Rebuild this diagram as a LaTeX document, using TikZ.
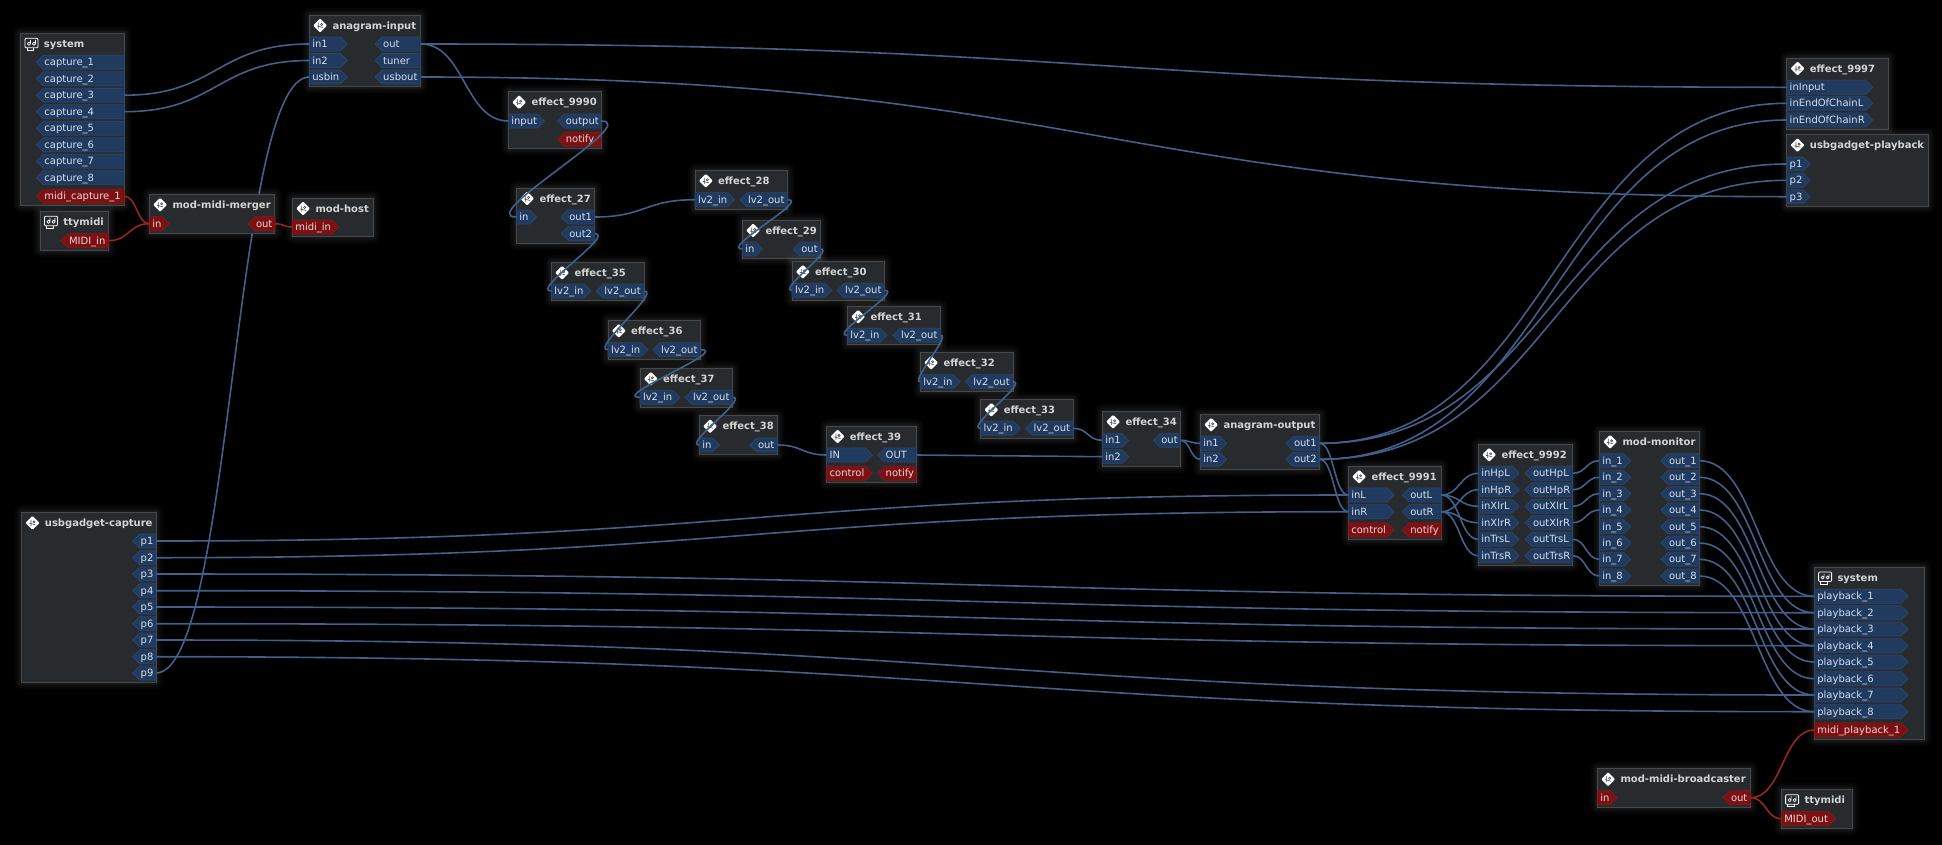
\documentclass[tikz,border=0pt]{standalone}
\usepackage{fontspec}
\setmainfont{DejaVu Sans}
\usetikzlibrary{calc}
\definecolor{bluefill}{HTML}{213B60}
\definecolor{blueedge}{HTML}{2B456B}
\definecolor{bluetext}{HTML}{D5DFEC}
\definecolor{redfill}{HTML}{7B1114}
\definecolor{rededge}{HTML}{861818}
\definecolor{redtext}{HTML}{F0D5D5}
\definecolor{boxedge}{HTML}{46494B}
\definecolor{boxfill}{HTML}{272B2D}
\definecolor{titletext}{HTML}{D4D4D4}
\definecolor{cableblue}{HTML}{41608A}
\definecolor{cablered}{HTML}{94281F}
\tikzset{
  x=1pt,y=-1pt,
  cableA/.style={draw=cableblue,line width=1.6pt},
  cableM/.style={draw=cablered,line width=1.6pt},
  pa/.style={fill=bluefill,draw=blueedge,line width=0.8pt},
  pm/.style={fill=redfill,draw=rededge,line width=0.8pt},
  pa text/.style={text=bluetext},
  pm text/.style={text=redtext},
  portlabel/.style={inner sep=0pt,outer sep=0pt,align=left,text height=10.5pt,text depth=3.5pt,font=\fontsize{10}{12}\selectfont},
  titlelabel/.style={inner sep=0pt,anchor=base west,text=titletext,font=\fontsize{10}{12}\selectfont\bfseries},
  boxnode/.style={draw=boxedge,line width=1pt,fill=boxfill,inner sep=0pt,outer sep=0pt,anchor=north west},
  glow/.style={fill=white,opacity=0.018},
  iconline/.style={draw=white,line width=0.8pt,line join=round},
}
% left-side (input) port: name, x of box edge, width, y, text, kind
\newcommand\inport[6]{%
  \draw[p#6] (#2,#4-7) -- (#2+#3-7,#4-7) -- (#2+#3,#4) -- (#2+#3-7,#4+7) -- (#2,#4+7) -- cycle;
  \node[portlabel,p#6 text,text width=#3pt] (#1) at ({#2+#3/2},#4) {\hspace*{3pt}\mbox{#5}};
}
% right-side (output) port: name, x of box edge, width, y, text, kind
\newcommand\outport[6]{%
  \draw[p#6] (#2,#4-7) -- (#2-#3+7,#4-7) -- (#2-#3,#4) -- (#2-#3+7,#4+7) -- (#2,#4+7) -- cycle;
  \node[portlabel,p#6 text,text width=#3pt] (#1) at ({#2-#3/2},#4) {\hspace*{8pt}\mbox{#5}};
}
\newcommand\plugicon[2]{%
  \fill[white,rounded corners=1pt] (#1-7,#2) -- (#1,#2-7) -- (#1+7,#2) -- (#1,#2+7) -- cycle;
  \draw[black!70,line width=0.6pt] (#1-1.5,#2-3) -- (#1-1.5,#2+3) (#1+1.5,#2-1) circle[radius=1.1pt] (#1-3,#2+0.5) -- (#1+3,#2+2);
}
\newcommand\hwicon[2]{%
  \draw[iconline,rounded corners=1pt] (#1-6.5,#2-5.5) rectangle (#1+6.5,#2+4);
  \draw[iconline,line width=0.6pt] (#1-4.5,#2+4) -- (#1-4.5,#2+6.5) -- (#1+2,#2+6.5) -- (#1+2,#2+4);
  \draw[iconline,line width=0.7pt] (#1-2.5,#2) circle[radius=1.6pt] (#1-1,#2) -- (#1-1,#2-4)
     (#1+2.5,#2) circle[radius=1.6pt] (#1+4,#2) -- (#1+4,#2-4);
}
% box: name, x1, y1, x2, y2, title, icon macro
\newcommand\gbox[7]{%
  \foreach \g in {7,5.5,4,3,2,1}{\fill[glow,rounded corners=\g pt] (#2-\g,#3-\g) rectangle (#4+\g,#5+\g);}
  \node[boxnode,minimum width=#4pt-#2pt,minimum height=#5pt-#3pt] (#1) at (#2,#3) {};
  #7{#2+10.8}{#3+10.5}
  \node[titlelabel] (#1title) at (#2+23,#3+14.2) {#6};
}
\newcommand\cable[3]{%
  \draw[cable#1] let \p1=(#2.east),\p2=(#3.west),\n1={abs(\x2-\x1)/2} in
    (\p1) .. controls (\x1+\n1,\y1) and (\x2-\n1,\y2) .. (\p2);
}
\begin{document}
\begin{tikzpicture}
\useasboundingbox (0,0) rectangle (1942,844);
\fill[black] (-3,-3) rectangle (1945,847);
% cable that runs behind the merger box
\coordinate (ucP) at (156,673);
\coordinate (aiU) at (309.3,77);
\draw[cableA] let \p1=(ucP),\p2=(aiU),\n1={abs(\x2-\x1)/2} in (\p1) .. controls (\x1+\n1,\y1) and (\x2-\n1,\y2) .. (\p2);

% ---- boxes
\gbox{sysL}{20.7}{33.3}{124.4}{205.7}{system}{\hwicon}
\outport{cap1}{124.4}{88}{62.3}{capture\_1}{a}
\outport{cap2}{124.4}{88}{78.8}{capture\_2}{a}
\outport{cap3}{124.4}{88}{95.2}{capture\_3}{a}
\outport{cap4}{124.4}{88}{111.7}{capture\_4}{a}
\outport{cap5}{124.4}{88}{128.2}{capture\_5}{a}
\outport{cap6}{124.4}{88}{144.7}{capture\_6}{a}
\outport{cap7}{124.4}{88}{161.2}{capture\_7}{a}
\outport{cap8}{124.4}{88}{177.7}{capture\_8}{a}
\outport{midicap}{124.4}{88}{196.3}{midi\_capture\_1}{m}

\gbox{ttyL}{40.2}{211.3}{108.6}{250.3}{ttymidi}{\hwicon}
\outport{ttyin}{108.6}{47.6}{240.7}{MIDI\_in}{m}

\gbox{merger}{149.3}{194.3}{274.9}{233}{mod-midi-merger}{\plugicon}
\inport{mergein}{149.3}{19.7}{223.7}{in}{m}
\outport{mergeout}{274.9}{26.9}{223.7}{out}{m}

\gbox{host}{292.3}{198}{373}{236.7}{mod-host}{\plugicon}
\inport{hostin}{292.3}{46.7}{227}{midi\_in}{m}

\gbox{aninp}{309.3}{15}{420.8}{86.7}{anagram-input}{\plugicon}
\inport{ai1}{309.3}{38}{44}{in1}{a}
\inport{ai2}{309.3}{38}{60.5}{in2}{a}
\inport{aiusb}{309.3}{38}{77}{usbin}{a}
\outport{aiout}{420.8}{45.6}{44}{out}{a}
\outport{aitun}{420.8}{45.6}{60.5}{tuner}{a}
\outport{aiusbo}{420.8}{45.6}{77}{usbout}{a}

\gbox{e9990}{508.3}{91.7}{601}{148.3}{effect\_9990}{\plugicon}
\inport{e9990i}{508.3}{36}{121}{input}{a}
\outport{e9990o}{601}{43.2}{121}{output}{a}
\outport{e9990n}{601}{43.2}{139.3}{notify}{m}

\gbox{e27}{516.3}{188}{594.7}{243}{effect\_27}{\plugicon}
\inport{e27i}{516.3}{20.2}{217}{in}{a}
\outport{e27a}{594.7}{33.4}{217}{out1}{a}
\outport{e27b}{594.7}{33.4}{233.7}{out2}{a}

\gbox{e28}{695}{170.3}{787.7}{209.3}{effect\_28}{\plugicon}
\inport{e28i}{695}{39.7}{199.7}{lv2\_in}{a}
\outport{e28o}{787.7}{47.7}{199.7}{lv2\_out}{a}

\gbox{e29}{742.3}{220}{820.7}{258.7}{effect\_29}{\plugicon}
\inport{e29i}{742.3}{20}{249}{in}{a}
\outport{e29o}{820.7}{27.4}{249}{out}{a}

\gbox{e30}{792}{261.3}{884.7}{300}{effect\_30}{\plugicon}
\inport{e30i}{792}{39.7}{290.3}{lv2\_in}{a}
\outport{e30o}{884.7}{47.7}{290.3}{lv2\_out}{a}

\gbox{e31}{847.3}{306.3}{940.7}{344.7}{effect\_31}{\plugicon}
\inport{e31i}{847.3}{39.7}{335.3}{lv2\_in}{a}
\outport{e31o}{940.7}{47.7}{335.3}{lv2\_out}{a}

\gbox{e32}{920.3}{352.3}{1013}{391.3}{effect\_32}{\plugicon}
\inport{e32i}{920.3}{39.7}{381.7}{lv2\_in}{a}
\outport{e32o}{1013}{47.7}{381.7}{lv2\_out}{a}

\gbox{e33}{980.6}{399.3}{1073.3}{438.3}{effect\_33}{\plugicon}
\inport{e33i}{980.6}{39.7}{428.3}{lv2\_in}{a}
\outport{e33o}{1073.3}{47.7}{428.3}{lv2\_out}{a}

\gbox{e34}{1102.3}{411.3}{1180.3}{466.3}{effect\_34}{\plugicon}
\inport{e34a}{1102.3}{26.4}{440.3}{in1}{a}
\inport{e34b}{1102.3}{26.4}{456.7}{in2}{a}
\outport{e34o}{1180.3}{27}{440.3}{out}{a}

\gbox{e35}{551.3}{262.3}{644}{300.3}{effect\_35}{\plugicon}
\inport{e35i}{551.3}{39.7}{291}{lv2\_in}{a}
\outport{e35o}{644}{47.7}{291}{lv2\_out}{a}

\gbox{e36}{608}{320.3}{700.7}{359.3}{effect\_36}{\plugicon}
\inport{e36i}{608}{39.7}{349.7}{lv2\_in}{a}
\outport{e36o}{700.7}{47.7}{349.7}{lv2\_out}{a}

\gbox{e37}{640}{368.3}{732.7}{407}{effect\_37}{\plugicon}
\inport{e37i}{640}{39.7}{397.3}{lv2\_in}{a}
\outport{e37o}{732.7}{47.7}{397.3}{lv2\_out}{a}

\gbox{e38}{699.3}{415.7}{777.7}{454.7}{effect\_38}{\plugicon}
\inport{e38i}{699.3}{20}{445}{in}{a}
\outport{e38o}{777.7}{27.7}{445}{out}{a}

\gbox{e39}{826.7}{426}{916.7}{482.7}{effect\_39}{\plugicon}
\inport{e39i}{826.7}{45.6}{455}{IN}{a}
\outport{e39o}{916.7}{39}{455}{OUT}{a}
\inport{e39c}{826.7}{45.6}{473.3}{control}{m}
\outport{e39n}{916.7}{39}{473.3}{notify}{m}

\gbox{anout}{1200.3}{414.3}{1319.7}{469.3}{anagram-output}{\plugicon}
\inport{aoa}{1200.3}{26.4}{443.3}{in1}{a}
\inport{aob}{1200.3}{26.4}{459.3}{in2}{a}
\outport{aoc}{1319.7}{33.7}{443.3}{out1}{a}
\outport{aod}{1319.7}{33.7}{459.3}{out2}{a}

\gbox{e9991}{1348.3}{466.3}{1441.3}{539.3}{effect\_9991}{\plugicon}
\inport{inL}{1348.3}{45.7}{495}{inL}{a}
\inport{inR}{1348.3}{45.7}{511.7}{inR}{a}
\inport{e91c}{1348.3}{45.7}{530}{control}{m}
\outport{outL}{1441.3}{39}{495}{outL}{a}
\outport{outR}{1441.3}{39}{511.7}{outR}{a}
\outport{e91n}{1441.3}{39}{530}{notify}{m}

\gbox{e9992}{1478.3}{444.3}{1572.7}{565}{effect\_9992}{\plugicon}
\inport{hpLi}{1478.3}{40.7}{473.3}{inHpL}{a}
\inport{hpRi}{1478.3}{40.7}{489.7}{inHpR}{a}
\inport{xlLi}{1478.3}{40.7}{506.3}{inXlrL}{a}
\inport{xlRi}{1478.3}{40.7}{522.7}{inXlrR}{a}
\inport{trLi}{1478.3}{40.7}{539.3}{inTrsL}{a}
\inport{trRi}{1478.3}{40.7}{555.7}{inTrsR}{a}
\outport{hpLo}{1572.7}{47.7}{473.3}{outHpL}{a}
\outport{hpRo}{1572.7}{47.7}{489.7}{outHpR}{a}
\outport{xlLo}{1572.7}{47.7}{506.3}{outXlrL}{a}
\outport{xlRo}{1572.7}{47.7}{522.7}{outXlrR}{a}
\outport{trLo}{1572.7}{47.7}{539.3}{outTrsL}{a}
\outport{trRo}{1572.7}{47.7}{555.7}{outTrsR}{a}

\gbox{monitor}{1599.3}{431.3}{1699.3}{585.3}{mod-monitor}{\plugicon}
\inport{mi1}{1599.3}{31.4}{460.7}{in\_1}{a}
\inport{mi2}{1599.3}{31.4}{477.3}{in\_2}{a}
\inport{mi3}{1599.3}{31.4}{493.7}{in\_3}{a}
\inport{mi4}{1599.3}{31.4}{510}{in\_4}{a}
\inport{mi5}{1599.3}{31.4}{526.7}{in\_5}{a}
\inport{mi6}{1599.3}{31.4}{543}{in\_6}{a}
\inport{mi7}{1599.3}{31.4}{559.3}{in\_7}{a}
\inport{mi8}{1599.3}{31.4}{576}{in\_8}{a}
\outport{mo1}{1699.3}{38.3}{460.7}{out\_1}{a}
\outport{mo2}{1699.3}{38.3}{477.3}{out\_2}{a}
\outport{mo3}{1699.3}{38.3}{493.7}{out\_3}{a}
\outport{mo4}{1699.3}{38.3}{510}{out\_4}{a}
\outport{mo5}{1699.3}{38.3}{526.7}{out\_5}{a}
\outport{mo6}{1699.3}{38.3}{543}{out\_6}{a}
\outport{mo7}{1699.3}{38.3}{559.3}{out\_7}{a}
\outport{mo8}{1699.3}{38.3}{576}{out\_8}{a}

\gbox{sysR}{1814.3}{567}{1924.3}{739.7}{system}{\hwicon}
\inport{pb1}{1814.3}{93.7}{596.3}{playback\_1}{a}
\inport{pb2}{1814.3}{93.7}{612.7}{playback\_2}{a}
\inport{pb3}{1814.3}{93.7}{629}{playback\_3}{a}
\inport{pb4}{1814.3}{93.7}{645.7}{playback\_4}{a}
\inport{pb5}{1814.3}{93.7}{662}{playback\_5}{a}
\inport{pb6}{1814.3}{93.7}{678.7}{playback\_6}{a}
\inport{pb7}{1814.3}{93.7}{695}{playback\_7}{a}
\inport{pb8}{1814.3}{93.7}{711.7}{playback\_8}{a}
\inport{midipb}{1814.3}{93.7}{730}{midi\_playback\_1}{m}

\gbox{bcast}{1597.3}{768.7}{1750.7}{807}{mod-midi-broadcaster}{\plugicon}
\inport{bci}{1597.3}{19.7}{797.7}{in}{m}
\outport{bco}{1750.7}{27.7}{797.7}{out}{m}

\gbox{ttyR}{1781.3}{789.7}{1852}{828.3}{ttymidi}{\hwicon}
\inport{ttyo}{1781.3}{54.4}{818.7}{MIDI\_out}{m}

\gbox{e9997}{1786.7}{58}{1888.7}{129.7}{effect\_9997}{\plugicon}
\inport{eInp}{1786.7}{86}{87.3}{inInput}{a}
\inport{eEL}{1786.7}{86}{103.3}{inEndOfChainL}{a}
\inport{eER}{1786.7}{86}{120}{inEndOfChainR}{a}

\gbox{ugp}{1786.7}{134.7}{1928}{206.3}{usbgadget-playback}{\plugicon}
\inport{ugp1}{1786.7}{23.3}{164}{p1}{a}
\inport{ugp2}{1786.7}{23.3}{180.3}{p2}{a}
\inport{ugp3}{1786.7}{23.3}{196.7}{p3}{a}

\gbox{ugc}{21.7}{512.3}{156}{682.7}{usbgadget-capture}{\plugicon}
\outport{c1}{156}{23.3}{541}{p1}{a}
\outport{c2}{156}{23.3}{557.7}{p2}{a}
\outport{c3}{156}{23.3}{574}{p3}{a}
\outport{c4}{156}{23.3}{590.7}{p4}{a}
\outport{c5}{156}{23.3}{607}{p5}{a}
\outport{c6}{156}{23.3}{623.7}{p6}{a}
\outport{c7}{156}{23.3}{640}{p7}{a}
\outport{c8}{156}{23.3}{656.7}{p8}{a}
\outport{c9}{156}{23.3}{673}{p9}{a}

% ---- cables
\cable{A}{cap3}{ai1}
\cable{A}{cap4}{ai2}
\cable{M}{midicap}{mergein}
\cable{M}{ttyin}{mergein}
\cable{M}{mergeout}{hostin}
\cable{A}{aiout}{eInp}
\cable{A}{aiout}{e9990i}
\cable{A}{aiusbo}{ugp3}
\cable{A}{e9990o}{e27i}
\cable{A}{e27a}{e28i}
\cable{A}{e27b}{e35i}
\cable{A}{e28o}{e29i}
\cable{A}{e29o}{e30i}
\cable{A}{e30o}{e31i}
\cable{A}{e31o}{e32i}
\cable{A}{e32o}{e33i}
\cable{A}{e33o}{e34a}
\cable{A}{e35o}{e36i}
\cable{A}{e36o}{e37i}
\cable{A}{e37o}{e38i}
\cable{A}{e38o}{e39i}
\cable{A}{e39o}{e34b}
\cable{A}{e34o}{aoa}
\cable{A}{e34o}{aob}
\cable{A}{aoc}{eEL}
\cable{A}{aoc}{ugp1}
\cable{A}{aoc}{inL}
\cable{A}{aod}{eER}
\cable{A}{aod}{ugp2}
\cable{A}{aod}{inR}
\cable{A}{c1}{inL}
\cable{A}{c2}{inR}
\cable{A}{c3}{pb1}
\cable{A}{c4}{pb2}
\cable{A}{c5}{pb3}
\cable{A}{c6}{pb4}
\cable{A}{c7}{pb7}
\cable{A}{c8}{pb8}
\cable{A}{outL}{hpLi}
\cable{A}{outL}{xlLi}
\cable{A}{outL}{trLi}
\cable{A}{outR}{hpRi}
\cable{A}{outR}{xlRi}
\cable{A}{outR}{trRi}
\cable{A}{hpLo}{mi1}
\cable{A}{hpRo}{mi2}
\cable{A}{xlLo}{mi3}
\cable{A}{xlRo}{mi4}
\cable{A}{trLo}{mi7}
\cable{A}{trRo}{mi8}
\cable{A}{mo1}{pb1}
\cable{A}{mo2}{pb2}
\cable{A}{mo3}{pb3}
\cable{A}{mo4}{pb4}
\cable{A}{mo5}{pb5}
\cable{A}{mo6}{pb6}
\cable{A}{mo7}{pb7}
\cable{A}{mo8}{pb8}
\cable{M}{bco}{midipb}
\cable{M}{bco}{ttyo}
\end{tikzpicture}
\end{document}
